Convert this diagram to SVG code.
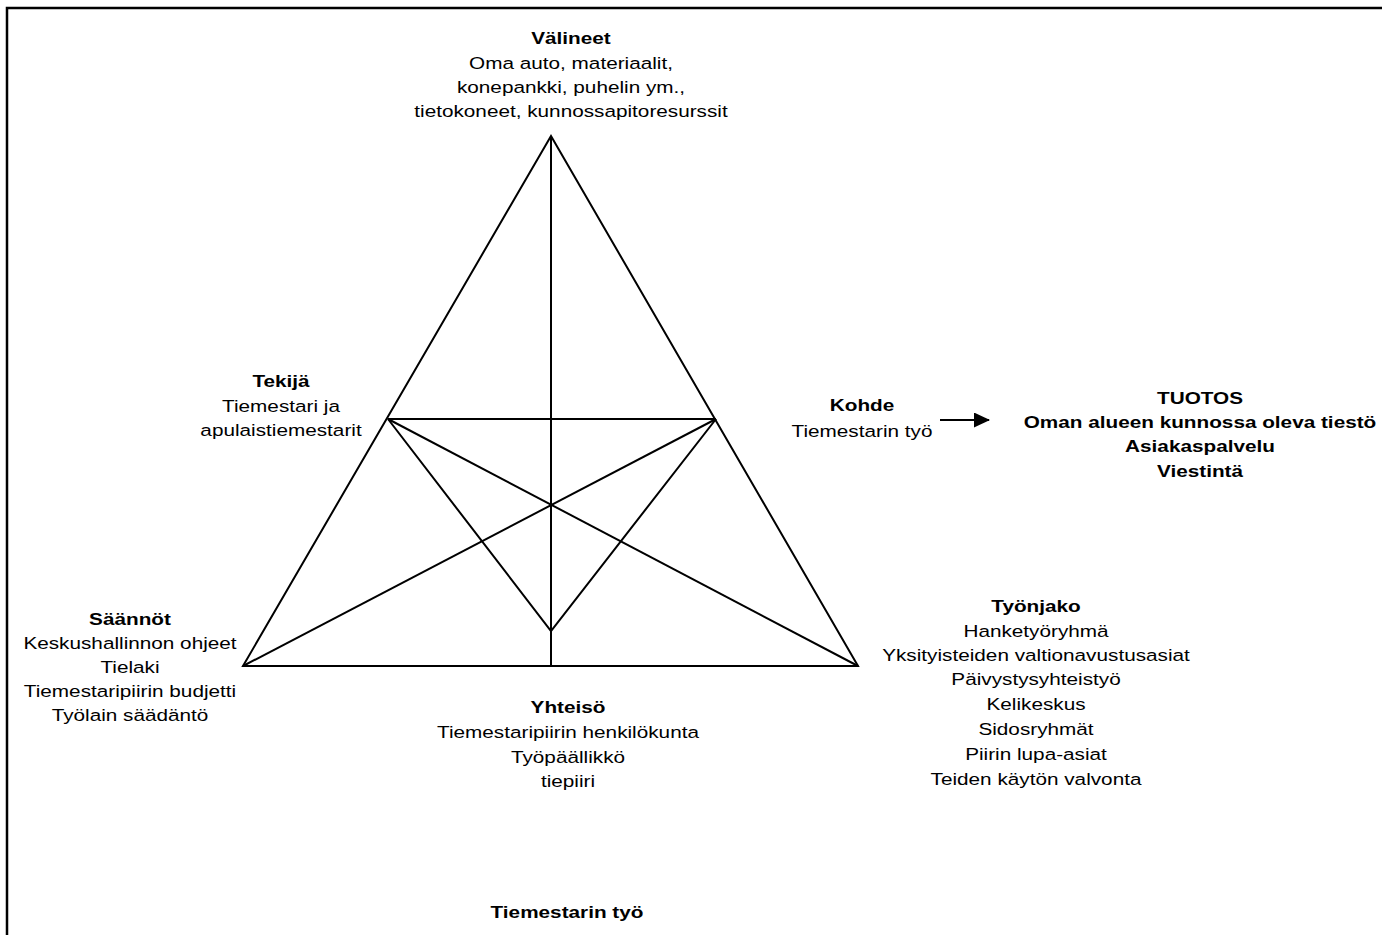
<svg xmlns="http://www.w3.org/2000/svg" width="1382" height="935" viewBox="0 0 1382 935">
<style>
text{font-family:"Liberation Sans",Arial,sans-serif;font-size:17px;fill:#000;text-anchor:middle}
.b{font-weight:bold}
.ln{stroke:#000;stroke-width:2;fill:none;stroke-linejoin:miter}
</style>
<defs>
<marker id="ah" markerWidth="16" markerHeight="15" refX="15" refY="7.5" orient="auto" markerUnits="userSpaceOnUse">
<path d="M0,0 L16,7.5 L0,15 Z" fill="#000"/>
</marker>
</defs>
<rect width="1382" height="935" fill="#fff"/>
<path d="M7,935 V8 H1382" stroke="#000" stroke-width="2.5" fill="none"/>
<g id="connectors">
<polygon class="ln" points="551,136 243,666 858,666"/>
<line class="ln" x1="551" y1="136" x2="551" y2="666"/>
<line class="ln" x1="388" y1="419" x2="716" y2="419"/>
<line class="ln" x1="388" y1="419" x2="858" y2="666"/>
<line class="ln" x1="716" y1="419" x2="243" y2="666"/>
<polyline class="ln" points="388,419 551,631 716,419"/>
<line class="ln" x1="940" y1="420" x2="989" y2="420" marker-end="url(#ah)"/>
</g>
<g id="valineet" transform="translate(571,0) scale(1.22,1)">
<text class="b" x="0" y="44">Välineet</text>
<text x="0" y="69">Oma auto, materiaalit,</text>
<text x="0" y="93">konepankki, puhelin ym.,</text>
<text x="0" y="117">tietokoneet, kunnossapitoresurssit</text>
</g>
<g id="tekija" transform="translate(281,0) scale(1.22,1)">
<text class="b" x="0" y="387">Tekijä</text>
<text x="0" y="412">Tiemestari ja</text>
<text x="0" y="436">apulaistiemestarit</text>
</g>
<g id="kohde" transform="translate(862,0) scale(1.22,1)">
<text class="b" x="0" y="411">Kohde</text>
<text x="0" y="437">Tiemestarin työ</text>
</g>
<g id="tuotos" transform="translate(1200,0) scale(1.22,1)">
<text class="b" x="0" y="404">TUOTOS</text>
<text class="b" x="0" y="428">Oman alueen kunnossa oleva tiestö</text>
<text class="b" x="0" y="452">Asiakaspalvelu</text>
<text class="b" x="0" y="477">Viestintä</text>
</g>
<g id="saannot" transform="translate(130,0) scale(1.22,1)">
<text class="b" x="0" y="625">Säännöt</text>
<text x="0" y="649">Keskushallinnon ohjeet</text>
<text x="0" y="673">Tielaki</text>
<text x="0" y="697">Tiemestaripiirin budjetti</text>
<text x="0" y="721">Työlain säädäntö</text>
</g>
<g id="yhteiso" transform="translate(568,0) scale(1.22,1)">
<text class="b" x="0" y="713">Yhteisö</text>
<text x="0" y="738">Tiemestaripiirin henkilökunta</text>
<text x="0" y="763">Työpäällikkö</text>
<text x="0" y="787">tiepiiri</text>
</g>
<g id="tyonjako" transform="translate(1036,0) scale(1.22,1)">
<text class="b" x="0" y="612">Työnjako</text>
<text x="0" y="637">Hanketyöryhmä</text>
<text x="0" y="661">Yksityisteiden valtionavustusasiat</text>
<text x="0" y="685">Päivystysyhteistyö</text>
<text x="0" y="710">Kelikeskus</text>
<text x="0" y="735">Sidosryhmät</text>
<text x="0" y="760">Piirin lupa-asiat</text>
<text x="0" y="785">Teiden käytön valvonta</text>
</g>
<g id="title" transform="translate(567,0) scale(1.22,1)">
<text class="b" x="0" y="918">Tiemestarin työ</text>
</g>
</svg>
